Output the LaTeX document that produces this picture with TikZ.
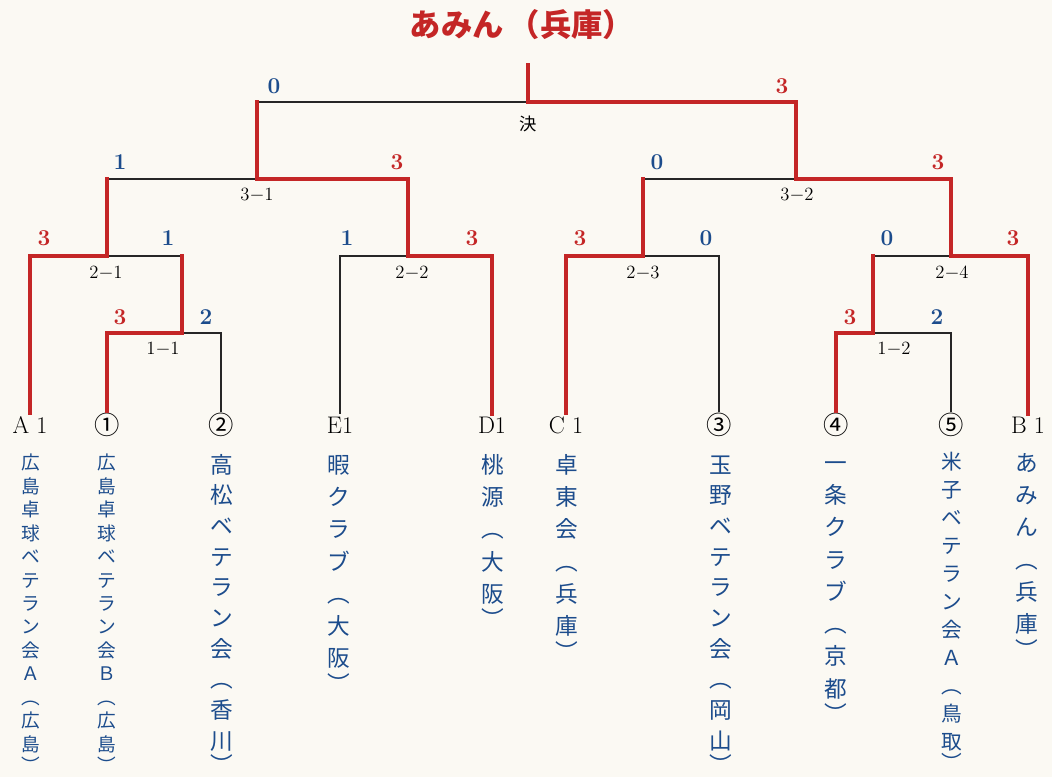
\documentclass[tikz,border=0pt]{standalone}
\usepackage{fontspec}
\newfontfamily\cjk{Noto Sans CJK JP}
\definecolor{wred}{RGB}{196,38,38}
\definecolor{lblue}{RGB}{28,76,140}
\definecolor{paper}{RGB}{251,249,243}
\tikzset{
  winline/.style={draw=wred, line width=2.6pt, line cap=rect},
  loseline/.style={draw=black!85, line width=1.1pt},
  redscore/.style={text=wred, inner sep=0pt, font=\bfseries\fontsize{17}{17}\selectfont},
  bluescore/.style={text=lblue, inner sep=0pt, font=\bfseries\fontsize{17}{17}\selectfont},
  matchlbl/.style={inner sep=0pt, font=\fontsize{14}{14}\selectfont},
  leaflbl/.style={inner sep=2pt, font=\fontsize{18}{18}\selectfont},
  circlbl/.style={inner sep=1pt, font=\cjk\fontsize{19}{19}\selectfont},
  vtsmall/.style={anchor=north, align=center, inner sep=0pt, text=lblue, font=\cjk\fontsize{14}{17.6}\selectfont},
  vtmid/.style={anchor=north, align=center, inner sep=0pt, text=lblue, font=\cjk\fontsize{17}{23}\selectfont},
  vtbig/.style={anchor=north, align=center, inner sep=0pt, text=lblue, font=\cjk\fontsize{17}{24.2}\selectfont},
  vtfive/.style={anchor=north, align=center, inner sep=0pt, text=lblue, font=\cjk\fontsize{15.5}{21}\selectfont},
}
\newcommand\st{\rule{0pt}{0.88em}}
\begin{document}
\begin{tikzpicture}[x=0.75pt,y=-0.75pt]
\fill[paper] (0,0) rectangle (1052,777);
\useasboundingbox (0,0) rectangle (1052,777);

% title
\node[text=wred, font=\cjk\bfseries\fontsize{23.5}{23.5}\selectfont, inner sep=0pt] (title) at (522,25) {あみん\,（兵庫）};

% leaf labels
\node[leaflbl] (A1) at (30,425) {A 1};
\node[circlbl] (n1) at (107,425) {①};
\node[circlbl] (n2) at (221,425) {②};
\node[leaflbl] (E1) at (340,425) {E1};
\node[leaflbl] (D1) at (492,425) {D1};
\node[leaflbl] (C1) at (566,425) {C 1};
\node[circlbl] (n3) at (719,425) {③};
\node[circlbl] (n4) at (836,425) {④};
\node[circlbl] (n5) at (951,425) {⑤};
\node[leaflbl] (B1) at (1028,425) {B 1};

% junctions
\coordinate (m11) at (182,333);
\coordinate (m12) at (873,333);
\coordinate (m21) at (107,256);
\coordinate (m22) at (408,256);
\coordinate (m23) at (643,256);
\coordinate (m24) at (951,256);
\coordinate (m31) at (257,179);
\coordinate (m32) at (796,179);
\coordinate (fin) at (528,102);
\coordinate (top) at (528,65);

% losing lines
\draw[loseline] (n2.north) |- (m11);
\draw[loseline] (E1.north) |- (m22);
\draw[loseline] (n3.north) |- (m23);
\draw[loseline] (n5.north) |- (m12);
\draw[loseline] (m11 |- m21) -- (m21);
\draw[loseline] (m21 |- m31) -- (m31);
\draw[loseline] (m31 |- fin) -- (fin);
\draw[loseline] (m12 |- m24) -- (m24);
\draw[loseline] (m23 |- m32) -- (m32);

% winning lines
\draw[winline] (n1.north) |- (m11);
\draw[winline] (A1.north) |- (m21);
\draw[winline] (D1.north) |- (m22);
\draw[winline] (C1.north) |- (m23);
\draw[winline] (n4.north) |- (m12);
\draw[winline] (B1.north) |- (m24);
\draw[winline] (m11) -- (m11 |- m21);
\draw[winline] (m21) -- (m21 |- m31);
\draw[winline] (m22) |- (m31);
\draw[winline] (m12) -- (m12 |- m24);
\draw[winline] (m23) -- (m23 |- m32);
\draw[winline] (m24) |- (m32);
\draw[winline] (m31) -- (m31 |- fin);
\draw[winline] (m32) |- (fin);
\draw[winline] (fin) -- (top);

% match labels
\node[matchlbl, font=\cjk\fontsize{13}{13}\selectfont] (lfin) at (528,124) {決};
\node[matchlbl] (l31) at (257,195) {3$-$1};
\node[matchlbl] (l32) at (797,195) {3$-$2};
\node[matchlbl] (l21) at (106,273) {2$-$1};
\node[matchlbl] (l22) at (412,273) {2$-$2};
\node[matchlbl] (l23) at (643,273) {2$-$3};
\node[matchlbl] (l24) at (952,273) {2$-$4};
\node[matchlbl] (l11) at (163,349) {1$-$1};
\node[matchlbl] (l12) at (894,349) {1$-$2};

% scores
\node[bluescore] (sf1) at (274,86) {0};
\node[redscore]  (sf2) at (782,86) {3};
\node[bluescore] (s311) at (120,162) {1};
\node[redscore]  (s312) at (397,162) {3};
\node[bluescore] (s321) at (657,162) {0};
\node[redscore]  (s322) at (938,162) {3};
\node[redscore]  (s211) at (44,238) {3};
\node[bluescore] (s212) at (168,238) {1};
\node[bluescore] (s221) at (347,238) {1};
\node[redscore]  (s222) at (472,238) {3};
\node[redscore]  (s231) at (580,238) {3};
\node[bluescore] (s232) at (706,238) {0};
\node[bluescore] (s241) at (887,238) {0};
\node[redscore]  (s242) at (1013,238) {3};
\node[redscore]  (s111) at (120,317) {3};
\node[bluescore] (s112) at (206,317) {2};
\node[redscore]  (s121) at (850,317) {3};
\node[bluescore] (s122) at (937,317) {2};

% team names (vertical)
\node[vtsmall] (tA1) at (31,453) {\st 広\\島\\卓\\球\\ベ\\テ\\ラ\\ン\\会\\Ａ\\︵\\広\\島\\[-2pt]︶};
\node[vtsmall] (tn1) at (107,453) {\st 広\\島\\卓\\球\\ベ\\テ\\ラ\\ン\\会\\Ｂ\\︵\\広\\島\\[-2pt]︶};
\node[vtmid] (tn2) at (222,453) {\st 高\\松\\ベ\\テ\\ラ\\ン\\会\\︵\\香\\川\\[-5pt]︶};
\node[vtbig] (tE1) at (339,453) {\st 暇\\ク\\ラ\\ブ\\︵\\大\\阪\\[-5pt]︶};
\node[vtbig] (tD1) at (493,453) {\st 桃\\源\\︵\\大\\阪\\[-5pt]︶};
\node[vtbig] (tC1) at (567,453) {\st 卓\\東\\会\\︵\\兵\\庫\\[-5pt]︶};
\node[vtmid] (tn3) at (721,453) {\st 玉\\野\\ベ\\テ\\ラ\\ン\\会\\︵\\岡\\山\\[-5pt]︶};
\node[vtbig] (tn4) at (836,451) {\st 一\\条\\ク\\ラ\\ブ\\︵\\京\\都\\[-5pt]︶};
\node[vtfive] (tn5) at (952,451) {\st 米\\子\\ベ\\テ\\ラ\\ン\\会\\Ａ\\︵\\鳥\\取\\[-5pt]︶};
\node[vtbig] (tB1) at (1027,451) {\st あ\\み\\ん\\︵\\兵\\庫\\[-5pt]︶};
\end{tikzpicture}
\end{document}
